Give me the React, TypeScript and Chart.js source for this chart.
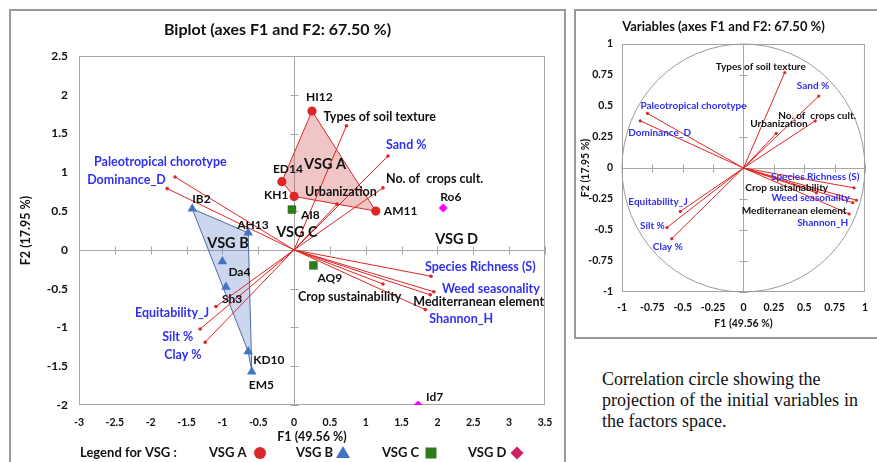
import React, { useEffect, useRef } from "react";
import { Chart, registerables } from "chart.js";

Chart.register(...registerables);

const FONT = "Lato, 'Open Sans', sans-serif";

// ---------- Observations (biplot coordinates F1 / F2) ----------
const vsgANames = ["HI12", "ED14", "KH1", "AM11"];
const vsgAF1 = [0.25, -0.17, 0.0, 1.14];
const vsgAF2 = [1.79, 0.88, 0.69, 0.5];

const vsgBNames = ["IB2", "AH13", "Da4", "Sh3", "KD10", "EM5"];
const vsgBF1 = [-1.42, -0.64, -1.0, -0.95, -0.64, -0.59];
const vsgBF2 = [0.53, 0.22, -0.15, -0.48, -1.31, -1.57];

const vsgCNames = ["AI8", "AQ9"];
const vsgCF1 = [-0.03, 0.27];
const vsgCF2 = [0.52, -0.2];

const vsgDNames = ["Ro6", "Id7"];
const vsgDF1 = [2.08, 1.73];
const vsgDF2 = [0.54, -2.0];

// convex hull order of group polygons
const hullA = ["HI12", "AM11", "KH1", "ED14", "HI12"];
const hullB = ["IB2", "AH13", "EM5", "KD10", "IB2"];

// ---------- Variables ----------
const variableNames = [
  "Types of soil texture",
  "Sand %",
  "No. of  crops cult.",
  "Urbanization",
  "Paleotropical chorotype",
  "Dominance_D",
  "Equitability_J",
  "Silt %",
  "Clay %",
  "Species Richness (S)",
  "Weed seasonality",
  "Mediterranean element",
  "Shannon_H",
  "Crop sustainability",
];
const blueVariables = [
  "Sand %",
  "Paleotropical chorotype",
  "Dominance_D",
  "Equitability_J",
  "Silt %",
  "Clay %",
  "Species Richness (S)",
  "Weed seasonality",
  "Shannon_H",
];
// biplot (scaled) coordinates
const biplotF1 = [0.73, 1.31, 1.24, 0.6, -1.66, -1.77, -1.09, -1.31, -1.24, 1.91, 1.95, 1.9, 1.83, 1.24];
const biplotF2 = [1.6, 1.21, 0.8, 0.59, 0.94, 0.79, -0.73, -1.02, -1.19, -0.34, -0.54, -0.58, -0.77, -0.44];
// correlation circle coordinates
const circleF1 = [0.34, 0.62, 0.59, 0.27, -0.79, -0.85, -0.52, -0.63, -0.59, 0.91, 0.93, 0.9, 0.87, 0.6];
const circleF2 = [0.77, 0.58, 0.38, 0.28, 0.44, 0.38, -0.35, -0.48, -0.57, -0.16, -0.26, -0.28, -0.37, -0.2];

// axis ticks / titles
const biplotTitle = "Biplot (axes F1 and F2: 67.50 %)";
const circleTitle = "Variables (axes F1 and F2: 67.50 %)";
const xTitle = "F1 (49.56 %)";
const yTitle = "F2 (17.95 %)";
const groupLabels = ["VSG A", "VSG B", "VSG C", "VSG D"];
const legendTitle = "Legend for VSG :";
const caption = [
  "Correlation circle showing the",
  "projection of the initial variables in",
  "the factors space.",
];

// ---------- styles / label placement (pixels) ----------
const BLUE = "#3030f0";
const BLACK = "#111111";
const RED = "#dd2626";
const TRI = "#4472c4";
const GREEN = "#2f7a1c";
const MAGENTA = "#ff00ff";
const DIAMOND_LEGEND = "#d02262";
const AXIS_GREY = "#a6a6a6";

const biplotVarOffsets: [number, number][] = [
  [-23, -9], [-2, -11], [3, -9], [-32, -12], [-81, -15], [-80, -9], [-81, 6],
  [-38, 8], [-41, 13], [-6, -9], [8, -3], [-17, 7], [4, 9], [-85, 13],
];
const circleVarOffsets: [number, number][] = [
  [-69, -6], [-22, -10], [-37, -5], [-26, -9], [-7, -8], [-12, 12], [-52, -10],
  [-27, -2], [-19, 8], [-83, -11], [-85, -2], [-111, 8], [-52, 9], [-71, -5],
];
const obsOffsets: Record<string, [number, number]> = {
  HI12: [-6, -14], ED14: [-9, -13], KH1: [-30, -1], AM11: [8, 0],
  AI8: [9, 6], AQ9: [4, 13], Ro6: [-3, -11], Id7: [8, -8],
  IB2: [0, -10], AH13: [-11, -8], Da4: [6, 11], Sh3: [-4, 12], KD10: [5, 9], EM5: [-3, 13],
};
const groupLabelPos: [number, number][] = [
  [0.14, 1.1], [-1.21, 0.09], [-0.25, 0.22], [1.97, 0.13],
];

type Txt = { text: string; x: number; y: number; dx: number; dy: number; color: string; font: string };

const fmtTick = (v: any) => String(Number(Number(v).toFixed(2)));

function pts(f1: number[], f2: number[]) {
  return f1.map((v, i) => ({ x: v, y: f2[i] }));
}
function hull(order: string[], names: string[], f1: number[], f2: number[]) {
  return order.map((n) => {
    const i = names.indexOf(n);
    return { x: f1[i], y: f2[i] };
  });
}

function framePlugin(circle: boolean) {
  return {
    id: "frameAxes",
    beforeDatasetsDraw(chart: any) {
      const { ctx, chartArea: a, scales } = chart;
      const xs = scales.x;
      const ys = scales.y;
      ctx.save();
      ctx.strokeStyle = AXIS_GREY;
      ctx.lineWidth = 1;
      ctx.strokeRect(a.left + 0.5, a.top + 0.5, a.right - a.left - 1, a.bottom - a.top - 1);
      const x0 = Math.round(xs.getPixelForValue(0)) + 0.5;
      const y0 = Math.round(ys.getPixelForValue(0)) + 0.5;
      ctx.beginPath();
      ctx.moveTo(a.left, y0);
      ctx.lineTo(a.right, y0);
      ctx.moveTo(x0, a.top);
      ctx.lineTo(x0, a.bottom);
      xs.ticks.forEach((t: any) => {
        if (t.value === 0) return;
        const px = Math.round(xs.getPixelForValue(t.value)) + 0.5;
        ctx.moveTo(px, y0 - 4);
        ctx.lineTo(px, y0 + 4);
      });
      ys.ticks.forEach((t: any) => {
        if (t.value === 0) return;
        const py = Math.round(ys.getPixelForValue(t.value)) + 0.5;
        ctx.moveTo(x0 - 4, py);
        ctx.lineTo(x0 + 4, py);
      });
      ctx.stroke();
      if (circle) {
        const cx = xs.getPixelForValue(0);
        const cy = ys.getPixelForValue(0);
        const rx = xs.getPixelForValue(1) - cx;
        const ry = cy - ys.getPixelForValue(1);
        ctx.beginPath();
        ctx.strokeStyle = "#9a9a9a";
        ctx.ellipse(cx, cy, rx, ry, 0, 0, Math.PI * 2);
        ctx.stroke();
      }
      ctx.restore();
    },
  };
}

function textPlugin(items: Txt[]) {
  return {
    id: "texts",
    afterDatasetsDraw(chart: any) {
      const { ctx, scales } = chart;
      ctx.save();
      ctx.textAlign = "left";
      ctx.textBaseline = "middle";
      items.forEach((t) => {
        const px = scales.x.getPixelForValue(t.x);
        const py = scales.y.getPixelForValue(t.y);
        ctx.font = t.font;
        ctx.fillStyle = t.color;
        ctx.fillText(t.text, px + t.dx, py + t.dy);
      });
      ctx.restore();
    },
  };
}

const legendPlugin = {
  id: "vsgLegend",
  afterDraw(chart: any) {
    const { ctx } = chart;
    const y = 443;
    ctx.save();
    ctx.textBaseline = "middle";
    ctx.textAlign = "left";
    ctx.fillStyle = BLACK;
    ctx.font = `bold 13px ${FONT}`;
    ctx.fillText(legendTitle, 70, y);
    const xsText = [199, 286, 372, 458];
    const xsMark = [250, 333, 421, 507];
    groupLabels.forEach((g, i) => {
      ctx.fillStyle = BLACK;
      ctx.fillText(g, xsText[i], y);
      const mx = xsMark[i];
      ctx.beginPath();
      if (i === 0) {
        ctx.fillStyle = RED;
        ctx.arc(mx, y, 6, 0, Math.PI * 2);
      } else if (i === 1) {
        ctx.fillStyle = TRI;
        ctx.moveTo(mx, y - 7);
        ctx.lineTo(mx + 7, y + 5);
        ctx.lineTo(mx - 7, y + 5);
        ctx.closePath();
      } else if (i === 2) {
        ctx.fillStyle = GREEN;
        ctx.rect(mx - 5.5, y - 5.5, 11, 11);
      } else {
        ctx.fillStyle = DIAMOND_LEGEND;
        ctx.moveTo(mx, y - 6.5);
        ctx.lineTo(mx + 6.5, y);
        ctx.lineTo(mx, y + 6.5);
        ctx.lineTo(mx - 6.5, y);
        ctx.closePath();
      }
      ctx.fill();
    });
    ctx.restore();
  },
};

function vectorDatasets(f1: number[], f2: number[], r: number) {
  return variableNames.map((n, i) => ({
    label: n,
    data: [{ x: 0, y: 0 }, { x: f1[i], y: f2[i] }],
    showLine: true,
    borderColor: RED,
    borderWidth: 1,
    pointRadius: [0, r],
    pointBackgroundColor: RED,
    pointBorderWidth: 0,
    fill: false,
    order: 2,
  }));
}

function pointDataset(label: string, data: any[], style: string, color: string, radius: number) {
  return {
    label,
    data,
    showLine: false,
    pointStyle: style,
    pointRadius: radius,
    pointBackgroundColor: color,
    pointBorderColor: color,
    pointBorderWidth: 0,
    order: 0,
  };
}

function BiplotChart() {
  const ref = useRef<HTMLCanvasElement | null>(null);
  useEffect(() => {
    if (!ref.current) return;
    const varFont = `bold 12.5px ${FONT}`;
    const obsFont = `bold 12px ${FONT}`;
    const texts: Txt[] = [];
    variableNames.forEach((n, i) =>
      texts.push({
        text: n, x: biplotF1[i], y: biplotF2[i], dx: biplotVarOffsets[i][0], dy: biplotVarOffsets[i][1],
        color: blueVariables.includes(n) ? BLUE : BLACK, font: varFont,
      })
    );
    const groups: [string[], number[], number[]][] = [
      [vsgANames, vsgAF1, vsgAF2], [vsgBNames, vsgBF1, vsgBF2],
      [vsgCNames, vsgCF1, vsgCF2], [vsgDNames, vsgDF1, vsgDF2],
    ];
    groups.forEach(([names, f1, f2]) =>
      names.forEach((n, i) =>
        texts.push({ text: n, x: f1[i], y: f2[i], dx: obsOffsets[n][0], dy: obsOffsets[n][1], color: BLACK, font: obsFont })
      )
    );
    groupLabels.forEach((g, i) =>
      texts.push({ text: g, x: groupLabelPos[i][0], y: groupLabelPos[i][1], dx: 0, dy: 0, color: "#111", font: `bold 14.5px ${FONT}` })
    );

    const chart = new Chart(ref.current, {
      type: "line",
      data: {
        datasets: [
          pointDataset("VSG A", pts(vsgAF1, vsgAF2), "circle", RED, 4.6),
          pointDataset("VSG B", pts(vsgBF1, vsgBF2), "triangle", TRI, 5.5),
          pointDataset("VSG C", pts(vsgCF1, vsgCF2), "rect", GREEN, 6),
          pointDataset("VSG D", pts(vsgDF1, vsgDF2), "rectRot", MAGENTA, 4.5),
          ...vectorDatasets(biplotF1, biplotF2, 1.8),
          {
            label: "hull A",
            data: hull(hullA, vsgANames, vsgAF1, vsgAF2),
            showLine: true,
            borderColor: RED,
            borderWidth: 1,
            backgroundColor: "rgba(205, 80, 80, 0.33)",
            fill: "shape",
            pointRadius: 0,
            order: 3,
          },
          {
            label: "hull B",
            data: hull(hullB, vsgBNames, vsgBF1, vsgBF2),
            showLine: true,
            borderColor: "#4f6aa8",
            borderWidth: 1,
            backgroundColor: "rgba(100, 130, 200, 0.33)",
            fill: "shape",
            pointRadius: 0,
            order: 3,
          },
        ] as any,
      },
      options: {
        responsive: false,
        animation: false,
        layout: { padding: { left: 0, right: 20, top: 0, bottom: 0 } },
        elements: { line: { tension: 0 } },
        plugins: {
          legend: { display: false },
          tooltip: { enabled: false },
          title: {
            display: true,
            text: biplotTitle,
            color: BLACK,
            font: { family: FONT, size: 16, weight: "bold" },
            padding: { top: 10.4, bottom: 16.4 },
          },
        },
        scales: {
          x: {
            type: "linear",
            min: -3,
            max: 3.5,
            grid: { display: false, drawTicks: false },
            border: { display: false },
            ticks: { stepSize: 0.5, padding: 11, color: BLACK, callback: fmtTick, font: { family: FONT, size: 10.5, weight: "bold" } },
            title: { display: true, text: xTitle, color: BLACK, font: { family: FONT, size: 12.5, weight: "bold" }, padding: { top: 0, bottom: 18 } },
            afterFit: (s: any) => { s.height = 57; },
          },
          y: {
            type: "linear",
            min: -2,
            max: 2.5,
            grid: { display: false, drawTicks: false },
            border: { display: false },
            ticks: { stepSize: 0.5, padding: 11, color: BLACK, callback: fmtTick, font: { family: FONT, size: 12, weight: "bold" } },
            title: { display: true, text: yTitle, color: BLACK, font: { family: FONT, size: 12.5, weight: "bold" }, padding: { top: 8, bottom: 0 } },
            afterFit: (s: any) => { s.width = 69; },
          },
        },
      } as any,
      plugins: [framePlugin(false), textPlugin(texts), legendPlugin],
    });
    return () => chart.destroy();
  }, []);
  return <canvas ref={ref} width={555} height={452} style={{ position: "absolute", left: 10, top: 10 }} />;
}

function CircleChart() {
  const ref = useRef<HTMLCanvasElement | null>(null);
  useEffect(() => {
    if (!ref.current) return;
    const labelFont = `bold 10px ${FONT}`;
    const texts: Txt[] = variableNames.map((n, i) => ({
      text: n, x: circleF1[i], y: circleF2[i], dx: circleVarOffsets[i][0], dy: circleVarOffsets[i][1],
      color: blueVariables.includes(n) ? BLUE : BLACK, font: labelFont,
    }));
    const chart = new Chart(ref.current, {
      type: "line",
      data: { datasets: vectorDatasets(circleF1, circleF2, 1.6) as any },
      options: {
        responsive: false,
        animation: false,
        layout: { padding: { left: 0, right: 5, top: 0, bottom: 0 } },
        elements: { line: { tension: 0 } },
        plugins: {
          legend: { display: false },
          tooltip: { enabled: false },
          title: {
            display: true,
            text: circleTitle,
            color: BLACK,
            font: { family: FONT, size: 13, weight: "bold" },
            padding: { top: 9.2, bottom: 9.2 },
          },
        },
        scales: {
          x: {
            type: "linear",
            min: -1,
            max: 1,
            grid: { display: false, drawTicks: false },
            border: { display: false },
            ticks: { stepSize: 0.25, padding: 9, color: BLACK, callback: fmtTick, font: { family: FONT, size: 10.5, weight: "bold" } },
            title: { display: true, text: xTitle, color: BLACK, font: { family: FONT, size: 10.5, weight: "bold" }, padding: { top: 0, bottom: 6.7 } },
            afterFit: (s: any) => { s.height = 45; },
          },
          y: {
            type: "linear",
            min: -1,
            max: 1,
            grid: { display: false, drawTicks: false },
            border: { display: false },
            ticks: { stepSize: 0.25, padding: 9, color: BLACK, callback: fmtTick, font: { family: FONT, size: 10.5, weight: "bold" } },
            title: { display: true, text: yTitle, color: BLACK, font: { family: FONT, size: 10.5, weight: "bold" }, padding: { top: 4, bottom: 0 } },
            afterFit: (s: any) => { s.width = 47; },
          },
        },
      } as any,
      plugins: [framePlugin(true), textPlugin(texts)],
    });
    return () => chart.destroy();
  }, []);
  return <canvas ref={ref} width={302} height={327} style={{ position: "absolute", left: 575, top: 10 }} />;
}

export default function App() {
  const serif = "'Liberation Serif', 'Times New Roman', serif";
  return (
    <div style={{ position: "fixed", left: 0, top: 0, width: 877, height: 462, overflow: "hidden", background: "#fff" }}>
      <BiplotChart />
      <div style={{ position: "absolute", left: 9, top: 9, width: 557, height: 480, border: "2px solid #9a9a9a", boxSizing: "border-box" }} />
      <CircleChart />
      <div style={{ position: "absolute", left: 574, top: 9, width: 330, height: 330, border: "2px solid #9a9a9a", boxSizing: "border-box" }} />
      <div style={{ position: "absolute", left: 602, top: 369, width: 256, fontFamily: serif, fontSize: 18, lineHeight: "21px", color: "#111" }}>
        <div>{caption[0]}</div>
        <div style={{ textAlign: "justify", textAlignLast: "justify" as any }}>{caption[1]}</div>
        <div>{caption[2]}</div>
      </div>
    </div>
  );
}
